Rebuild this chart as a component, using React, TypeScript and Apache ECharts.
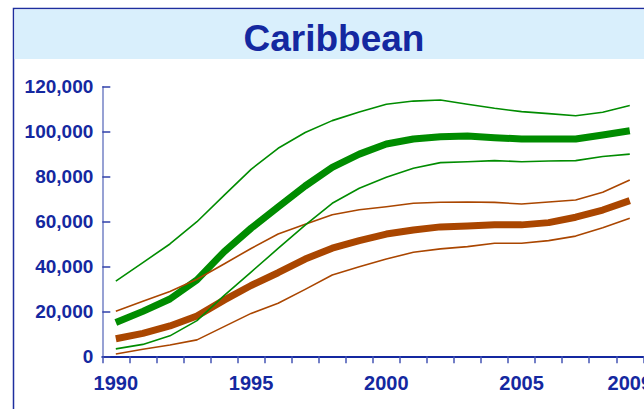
import React, { useEffect, useRef } from "react";
import * as echarts from "echarts";

const years = ["1990","1991","1992","1993","1994","1995","1996","1997","1998","1999","2000","2001","2002","2003","2004","2005","2006","2007","2008","2009"];
const greenHigh = [33500, 41700, 50000, 59900, 71600, 83200, 92600, 99600, 104900, 108700, 112200, 113600, 114100, 112200, 110400, 108900, 108000, 107100, 108600, 111600];
const greenMid = [15000, 20000, 25500, 34000, 46500, 57000, 66500, 75800, 84100, 90000, 94500, 96700, 97700, 98100, 97300, 96700, 96700, 96700, 98500, 100400];
const greenLow = [3300, 5300, 9100, 15900, 27000, 37500, 48000, 58400, 68100, 74800, 79700, 83700, 86200, 86600, 87100, 86600, 86900, 87100, 88900, 90000];
const brownHigh = [20000, 24500, 28800, 34300, 41100, 48000, 54400, 58800, 63000, 65200, 66600, 68100, 68600, 68700, 68500, 67800, 68700, 69600, 73000, 78500];
const brownMid = [7800, 10200, 13500, 17900, 25000, 31500, 37200, 43300, 48100, 51500, 54400, 56200, 57600, 58000, 58500, 58500, 59500, 61900, 65100, 69300];
const brownLow = [1000, 3100, 5000, 7300, 13200, 19100, 23600, 29800, 36200, 39900, 43300, 46300, 47800, 48800, 50300, 50300, 51500, 53500, 57200, 61400];

const titleText = "Caribbean";
const GREEN = "#008C00";
const BROWN = "#AA4600";
const BLUE = "#1428A0";
const FONT = "'Liberation Sans', Arial, sans-serif";

export default function App() {
  const ref = useRef<HTMLDivElement>(null);
  useEffect(() => {
    if (!ref.current) return;
    const chart = echarts.init(ref.current, null, { renderer: "svg" });
    const line = (name: string, data: number[], color: string, width: number) => ({
      name,
      type: "line",
      data,
      symbol: "none",
      smooth: false,
      lineStyle: { color, width, cap: "butt", join: "round" },
      z: width > 3 ? 2 : 3,
    });
    chart.setOption({
      animation: false,
      backgroundColor: "#ffffff",
      graphic: [
        {
          type: "rect",
          shape: { x: 13.5, y: 8.5, width: 700, height: 500 },
          style: { fill: "#ffffff", stroke: "#1E2E9E", lineWidth: 1.5 },
          z: -10,
        },
        {
          type: "rect",
          shape: { x: 14.5, y: 9.5, width: 700, height: 49.5 },
          style: { fill: "#D9EFFC" },
          z: -9,
        },
      ],
      title: {
        text: titleText,
        left: 329,
        top: 15,
        textAlign: "center",
        textStyle: {
          color: BLUE,
          fontSize: 37,
          fontWeight: "bold",
          fontFamily: FONT,
        },
      },
      grid: { left: 102.3, top: 86.7, width: 541, height: 269.6 },
      xAxis: {
        type: "category",
        data: years,
        boundaryGap: true,
        axisLine: { lineStyle: { color: BLUE, width: 2 } },
        axisTick: { show: true, inside: false, length: 7, interval: 0, lineStyle: { color: "#4454B4", width: 1.5 } },
        axisLabel: {
          interval: (i: number) => i % 5 === 0 || i === years.length - 1,
          color: BLUE,
          fontSize: 20,
          fontWeight: "bold",
          fontFamily: FONT,
          margin: 17,
        },
        splitLine: { show: false },
      },
      yAxis: {
        type: "value",
        min: 0,
        max: 120000,
        interval: 20000,
        axisLine: { show: true, lineStyle: { color: "#7482C6", width: 1.5 } },
        axisTick: { show: true, inside: true, length: 8, lineStyle: { color: "#3040AA", width: 1.5 } },
        axisLabel: {
          color: BLUE,
          fontSize: 19,
          fontWeight: "bold",
          fontFamily: FONT,
          margin: 9,
          formatter: (v: number) => v.toLocaleString("en-US"),
        },
        splitLine: { show: false },
      },
      series: [
        line("brownMid", brownMid, BROWN, 7),
        line("greenMid", greenMid, GREEN, 7),
        line("brownHigh", brownHigh, BROWN, 1.6),
        line("brownLow", brownLow, BROWN, 1.6),
        line("greenHigh", greenHigh, GREEN, 1.6),
        line("greenLow", greenLow, GREEN, 1.6),
      ],
    });
    return () => chart.dispose();
  }, []);
  return (
    <div style={{ position: "fixed", left: 0, top: 0, width: 644, height: 409, overflow: "hidden", background: "#fff" }}>
      <div ref={ref} style={{ width: 720, height: 470 }} />
    </div>
  );
}
